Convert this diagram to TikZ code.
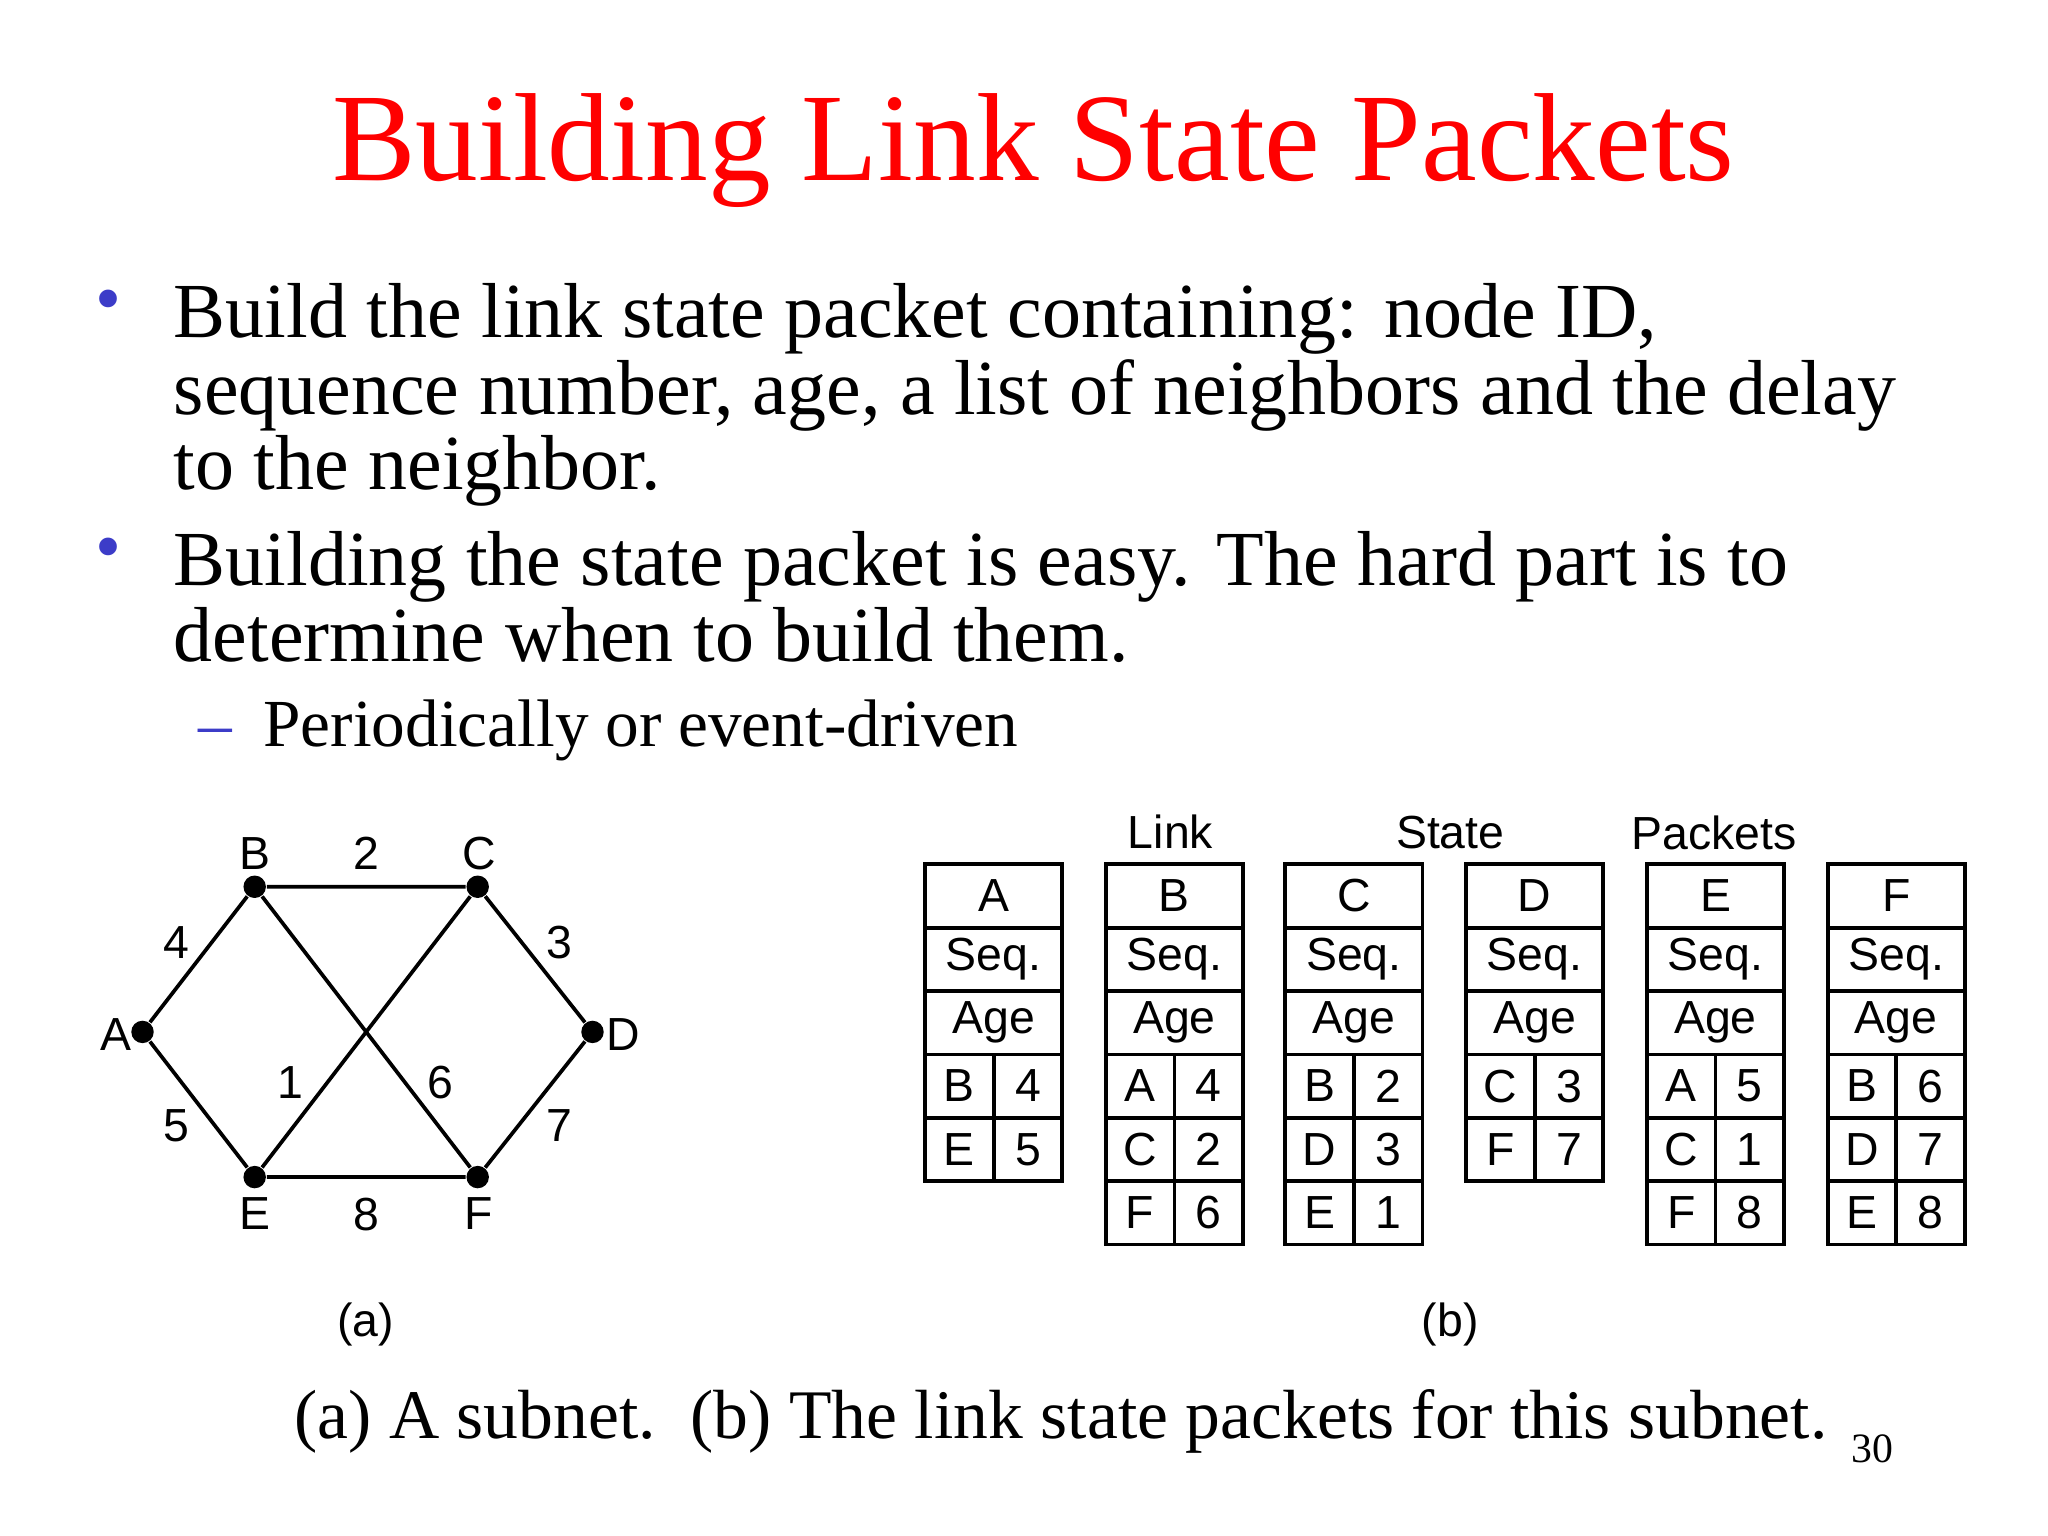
\documentclass[tikz,border=0pt]{standalone}
\usepackage{fontspec}
\setmainfont{Liberation Serif}
\setsansfont{Liberation Sans}
\begin{document}
\begin{tikzpicture}[x=0.01cm,y=-0.01cm,
  lbl/.style={font=\sffamily\fontsize{10}{11}\selectfont,inner sep=0pt},
  body/.style={font=\fontsize{16.8}{18}\selectfont,anchor=base west,inner sep=0pt},
  dot/.style={circle,fill=black,inner sep=0pt,minimum size=0.17cm},
  edge/.style={line width=0.8pt}]
\useasboundingbox (0,0) rectangle (1552,1164);
\node[font=\fontsize{27}{30}\selectfont,text=red,anchor=base,inner sep=0pt] (title) at (783,137) {Building Link State Packets};
\node[text={rgb,255:red,60;green,60;blue,200},font=\fontsize{16}{18}\selectfont,anchor=base,inner sep=0pt] (b1) at (82,245) {•};
\node[text={rgb,255:red,60;green,60;blue,200},font=\fontsize{16}{18}\selectfont,anchor=base,inner sep=0pt] (b2) at (82,433) {•};
\node[body] (t1) at (131,256) {Build the link state packet containing: node ID,};
\node[body] (t2) at (131,314) {sequence number, age, a list of neighbors and the delay};
\node[body] (t3) at (131,371) {to the neighbor.};
\node[body] (t4) at (131,444) {Building the state packet is easy. The hard part is to};
\node[body] (t5) at (131,501) {determine when to build them.};
\node[text={rgb,255:red,60;green,60;blue,200},font=\fontsize{14.5}{16}\selectfont,anchor=base west,inner sep=0pt] (d1) at (150,566) {–};
\node[body,font=\fontsize{14.5}{16}\selectfont] (t6) at (199,566) {Periodically or event-driven};
% graph
\node[dot] (A) at (108,782) {};
\node[dot] (B) at (193,672) {};
\node[dot] (C) at (362,672) {};
\node[dot] (D) at (449,782) {};
\node[dot] (E) at (193,892) {};
\node[dot] (F) at (362,892) {};
\draw[edge] (A)--(B) (A)--(E) (B)--(C) (C)--(D) (D)--(F) (E)--(F) (B)--(F) (C)--(E);
\node[lbl] (lA) at (88,784) {A};
\node[lbl] (lB) at (193,647) {B};
\node[lbl] (lC) at (363,647) {C};
\node[lbl] (lD) at (472,784) {D};
\node[lbl] (lE) at (193,920) {E};
\node[lbl] (lF) at (363,920) {F};
\node[lbl] (w2) at (278,647) {2};
\node[lbl] (w4) at (134,714) {4};
\node[lbl] (w3) at (424,714) {3};
\node[lbl] (w5) at (134,853) {5};
\node[lbl] (w7) at (424,853) {7};
\node[lbl] (w1) at (220,820) {1};
\node[lbl] (w6) at (334,820) {6};
\node[lbl] (w8) at (278,920) {8};
\node[lbl] (ca) at (277,1004) {(a)};
\node[lbl] (cb) at (1099,1004) {(b)};
\node[lbl] (hL) at (887,630) {Link};
\node[lbl] (hS) at (1099,631) {State};
\node[lbl] (hP) at (1299,631) {Packets};
% tables
\foreach \x/\n/\pairs [count=\i] in {701/A/{B/4,E/5},838/B/{A/4,C/2,F/6},974/C/{B/2,D/3,E/1},1111/D/{C/3,F/7},1248/E/{A/5,C/1,F/8},1385/F/{B/6,D/7,E/8}}{
  \draw[edge] (\x,655) rectangle ++(104,48);
  \node[lbl] (n\i) at (\x+52,679) {\n};
  \draw[edge] (\x,703) rectangle ++(104,48);
  \node[lbl] (s\i) at (\x+52,727) {Seq.};
  \draw[edge] (\x,751) rectangle ++(104,48);
  \node[lbl] (g\i) at (\x+52,775) {Age};
  \foreach \p/\v [count=\j] in \pairs {
    \draw[edge] (\x,751+48*\j) rectangle ++(52,48);
    \draw[edge] (\x+52,751+48*\j) rectangle ++(52,48);
    \node[lbl] (p\i\j) at (\x+26,775+48*\j) {\p};
    \node[lbl] (v\i\j) at (\x+78,775+48*\j) {\v};
  }
}
\node[font=\fontsize{15}{17}\selectfont,anchor=base,inner sep=0pt] (cap) at (804,1090) {(a) A subnet.\ \ (b) The link state packets for this subnet.};
\node[font=\fontsize{9}{11}\selectfont,anchor=base,inner sep=0pt] (num) at (1419,1108) {30};
\end{tikzpicture}
\end{document}
